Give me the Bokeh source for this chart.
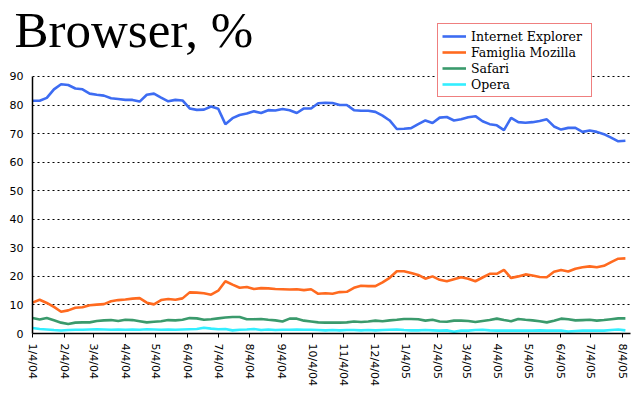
import datetime as dt
from bokeh.plotting import figure
from bokeh.models import (Range1d, FixedTicker, Legend, LegendItem, ColumnDataSource)
from bokeh.embed import file_html
from bokeh.resources import INLINE

# weekly samples starting 2004-01-04
start = dt.date(2004, 1, 4)

ie = [81.5, 81.5, 82.5, 85.5, 87.3, 87.0, 85.8, 85.5, 84.0, 83.6,
      83.3, 82.4, 82.1, 81.8, 81.8, 81.2, 83.6, 84.0, 82.6, 81.3,
      81.8, 81.6, 78.8, 78.3, 78.4, 79.5, 78.7, 73.3, 75.4, 76.5,
      77.0, 77.8, 77.2, 78.2, 78.1, 78.6, 78.2, 77.2, 78.8, 78.8,
      80.6, 80.8, 80.7, 80.0, 80.0, 78.2, 78.0, 78.0, 77.6, 76.3,
      74.6, 71.6, 71.7, 71.9, 73.3, 74.6, 73.7, 75.6, 75.8, 74.6,
      75.0, 75.7, 76.1, 74.3, 73.3, 72.9, 71.2, 75.5, 74.0, 73.8,
      74.0, 74.4, 75.0, 72.5, 71.4, 72.0, 72.0, 70.6, 71.1, 70.6,
      69.8, 68.6, 67.3, 67.5]

mozilla = [10.8, 11.8, 10.7, 9.3, 7.6, 8.1, 9.0, 9.2, 9.9, 10.1,
           10.3, 11.3, 11.7, 11.9, 12.2, 12.4, 10.8, 10.2, 11.7, 12.1,
           11.8, 12.3, 14.4, 14.3, 14.1, 13.6, 15.0, 18.3, 17.1, 16.0,
           16.3, 15.6, 15.9, 15.8, 15.6, 15.5, 15.4, 15.5, 15.2, 15.5,
           13.9, 14.1, 13.9, 14.5, 14.6, 16.0, 16.7, 16.6, 16.6, 17.9,
           19.5, 21.8, 21.8, 21.2, 20.5, 19.2, 20.0, 18.8, 18.3, 19.0,
           19.7, 19.2, 18.3, 19.6, 20.9, 20.9, 22.3, 19.4, 20.0, 20.7,
           20.3, 19.8, 19.7, 21.6, 22.2, 21.7, 22.7, 23.2, 23.5, 23.2,
           23.7, 25.0, 26.2, 26.3]

safari = [5.4, 4.9, 5.4, 4.6, 3.8, 3.3, 3.8, 3.9, 3.9, 4.4,
          4.6, 4.7, 4.4, 4.8, 4.7, 4.3, 3.9, 4.1, 4.3, 4.7,
          4.6, 4.8, 5.4, 5.3, 4.8, 5.0, 5.3, 5.6, 5.8, 5.8,
          5.0, 5.0, 5.1, 4.8, 4.6, 4.2, 5.2, 5.2, 4.5, 4.2,
          3.9, 3.8, 3.8, 3.8, 3.9, 4.2, 4.0, 4.2, 4.5, 4.3,
          4.6, 4.8, 5.1, 5.1, 5.0, 4.5, 4.8, 4.2, 4.1, 4.5,
          4.5, 4.4, 4.0, 4.4, 4.7, 5.2, 4.7, 4.3, 5.1, 4.8,
          4.6, 4.3, 3.9, 4.5, 5.2, 5.0, 4.6, 4.7, 4.8, 4.5,
          4.7, 5.0, 5.3, 5.3]

opera = [1.9, 1.6, 1.4, 1.2, 1.05, 1.2, 1.3, 1.3, 1.4, 1.5,
         1.4, 1.3, 1.4, 1.3, 1.4, 1.3, 1.5, 1.4, 1.3, 1.4,
         1.3, 1.4, 1.5, 1.6, 2.0, 1.7, 1.5, 1.6, 1.1, 1.3,
         1.4, 1.6, 1.2, 1.4, 1.2, 1.3, 1.3, 1.4, 1.3, 1.3,
         1.2, 1.1, 1.2, 1.1, 1.2, 1.2, 1.1, 1.2, 1.1, 1.2,
         1.3, 1.4, 1.2, 1.1, 1.1, 1.2, 1.1, 1.0, 1.1, 0.6,
         1.0, 1.0, 1.2, 1.3, 1.1, 1.0, 1.0, 1.0, 1.0, 1.0,
         1.0, 1.1, 1.0, 1.0, 1.0, 0.7, 0.9, 1.0, 1.0, 1.0,
         1.0, 1.2, 1.4, 1.1]

series_names = ["Internet Explorer", "Famiglia Mozilla", "Safari", "Opera"]
series_colors = ["#3d6cf2", "#ff6a1f", "#3a9a6c", "#33eeff"]

y_ticks = list(range(0, 91, 10))

# tick dates: the 4th of every month, Jan 2004 .. Aug 2005
tick_dates = [dt.date(2004 + (m - 1) // 12, (m - 1) % 12 + 1, 4) for m in range(1, 21)]
tick_labels = [f"{d.month}/{d.day}/{d.strftime('%y')}" for d in tick_dates]
tick_pos = [(d - start).days for d in tick_dates]

days = [7 * i for i in range(len(ie))]

p = figure(width=635, height=394, output_backend="svg", toolbar_location=None,
           x_range=Range1d(0, 586), y_range=Range1d(0, 110.3),
           min_border_left=32, min_border_right=5, min_border_top=18,
           min_border_bottom=61)
p.outline_line_color = None
p.background_fill_color = "white"
p.border_fill_color = "white"

p.title.text = "Browser, %"
p.title.text_font = "Liberation Serif"
p.title.text_font_size = "51px"
p.title.text_font_style = "normal"
p.title.text_color = "black"
p.title.align = "left"
p.title.offset = -18
p.title.standoff = -79

src = ColumnDataSource(dict(x=days, ie=ie, moz=mozilla, saf=safari, op=opera))
renderers = []
for col, c in zip(["ie", "moz", "saf", "op"], series_colors):
    r = p.line("x", col, source=src, line_color=c, line_width=2.6)
    renderers.append(r)

# axes
p.xaxis.ticker = FixedTicker(ticks=tick_pos)
p.xaxis.major_label_overrides = {t: l for t, l in zip(tick_pos, tick_labels)}
p.xaxis.major_label_orientation = "vertical"
p.xaxis.major_tick_out = 4
p.xaxis.major_tick_in = 0
p.xaxis.minor_tick_out = 0
p.xaxis.minor_tick_in = 0
p.xaxis.major_label_standoff = 6
p.yaxis.ticker = FixedTicker(ticks=y_ticks)
p.yaxis.bounds = (0, 90)
p.yaxis.major_tick_out = 0
p.yaxis.major_tick_in = 0
p.yaxis.minor_tick_out = 0
p.yaxis.minor_tick_in = 0
p.yaxis.major_label_standoff = 9
for ax in (p.xaxis, p.yaxis):
    ax.axis_line_color = "black"
    ax.axis_line_width = 1.5
    ax.major_tick_line_color = "black"
    ax.major_label_text_font = "DejaVu Sans"
    ax.major_label_text_font_size = "11px"
    ax.major_label_text_color = "black"

p.xgrid.grid_line_color = None
p.ygrid.ticker = FixedTicker(ticks=y_ticks[1:])
p.ygrid.grid_line_color = "black"
p.ygrid.grid_line_dash = "2 3"
p.ygrid.grid_line_width = 1

legend = Legend(items=[LegendItem(label=n, renderers=[r]) for n, r in zip(series_names, renderers)],
                location=(405, 236))
legend.label_text_font = "DejaVu Serif"
legend.label_text_font_size = "12.5px"
legend.label_text_color = "black"
legend.label_height = 16
legend.label_width = 116
legend.glyph_height = 16
legend.glyph_width = 24
legend.label_standoff = 5
legend.spacing = 0
legend.padding = 4
legend.margin = 0
legend.border_line_color = "#e00000"
legend.border_line_width = 1.5
legend.background_fill_alpha = 1
p.add_layout(legend, "center")

open("out.html", "w").write(file_html(p, INLINE))
